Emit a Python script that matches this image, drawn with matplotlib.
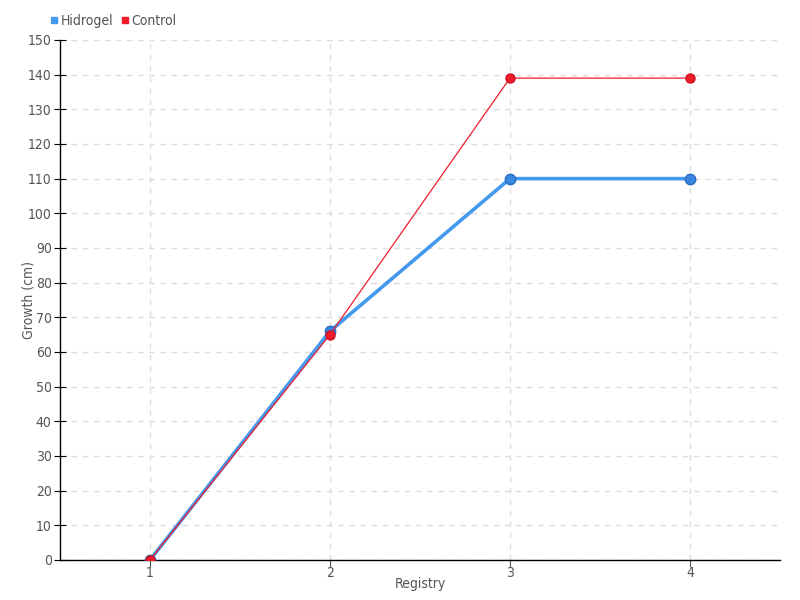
import matplotlib
matplotlib.use("Agg")
import matplotlib.pyplot as plt
from matplotlib.lines import Line2D

plt.rcParams["font.family"] = ["DejaVu Sans"]
plt.rcParams["font.stretch"] = "condensed"

registry = [1, 2, 3, 4]
hidrogel = [0, 66, 110, 110]
control = [0, 65, 139, 139]
y_ticks = list(range(0, 151, 10))

BLUE = "#4499ee"
RED = "#ee1c2b"
TXT = "#555555"

fig = plt.figure(figsize=(8, 6), dpi=100)
ax = fig.add_axes([0.075, 0.0667, 0.9, 0.8667])

ax.plot(registry, hidrogel, color=BLUE, lw=2.6, marker="o", ms=7.5,
        mfc="#3a86e0", mec="#2a6cc0", mew=1, zorder=3)
ax.plot(registry, control, color=RED, lw=0.9, marker="o", ms=6.5,
        mfc=RED, mec="#d01020", zorder=4)

ax.set_xlim(0.5, 4.5)
ax.set_ylim(0, 150)
ax.set_xticks(registry)
ax.set_yticks(y_ticks)
ax.grid(True, color="#dddddd", ls=(0, (4, 4)), lw=1)
ax.set_axisbelow(True)

for s in ["top", "right"]:
    ax.spines[s].set_visible(False)
ax.spines["left"].set_linewidth(1)
ax.spines["bottom"].set_linewidth(1)
ax.tick_params(axis="y", direction="inout", length=8, labelsize=10, labelcolor=TXT, pad=2)
ax.tick_params(axis="x", direction="out", length=5, labelsize=10, labelcolor=TXT, color="#555555", pad=-1)

ax.set_xlabel("Registry", fontsize=10, color=TXT, labelpad=-2)
ax.set_ylabel("Growth (cm)", fontsize=10, color=TXT)
ax.yaxis.set_label_coords(-0.034, 0.5)

handles = [Line2D([], [], ls="none", marker="s", ms=5, color=BLUE),
           Line2D([], [], ls="none", marker="s", ms=5, color=RED)]
fig.legend(handles, ["Hidrogel", "Control"], loc="upper left", bbox_to_anchor=(0.045, 0.997),
           ncol=2, frameon=False, fontsize=10, handletextpad=0.05, columnspacing=0.5,
           handlelength=0.8, labelcolor=TXT)

fig.savefig("out.png", dpi=100)
